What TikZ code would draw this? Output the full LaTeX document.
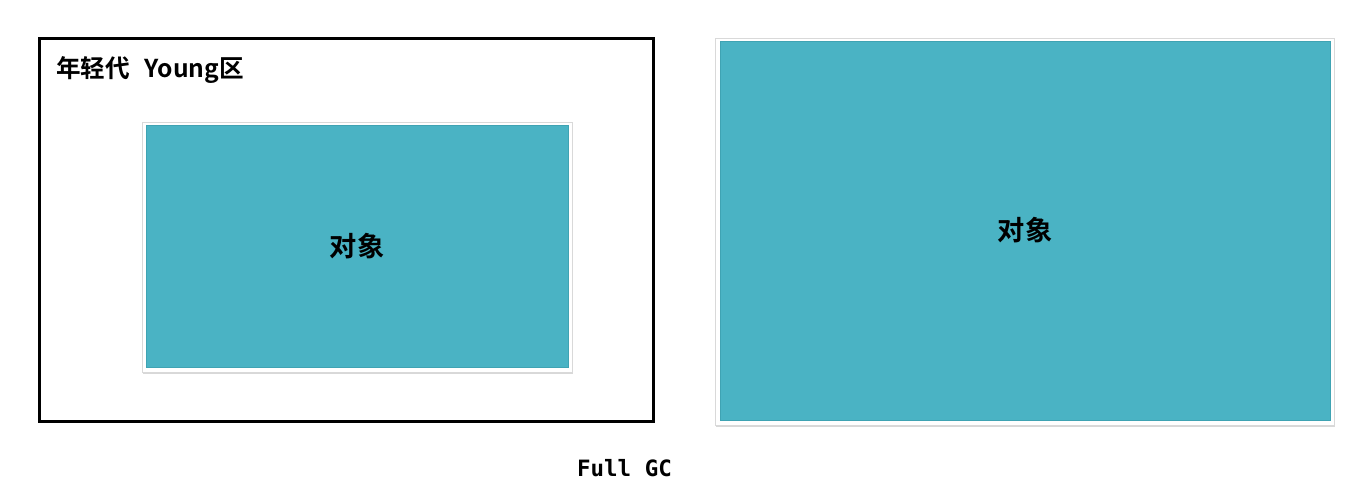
\documentclass[tikz,border=0pt]{standalone}
\usepackage{fontspec}
\usepackage{xcolor}
\usepackage{tikz}
\usetikzlibrary{positioning, shadows}
\newfontfamily\cjk{Noto Sans CJK SC}[BoldFont={Noto Sans CJK SC Bold}]
\newfontfamily\gcmono{DejaVu Sans Mono}
\definecolor{objteal}{HTML}{4AB3C4}
\definecolor{objborder}{HTML}{3FA3B3}
\definecolor{framegray}{HTML}{D9D9D9}

\tikzset{
  objframe/.style={fill=white, draw=framegray, line width=0.3pt, inner sep=0pt,
                   drop shadow={shadow xshift=0.6pt, shadow yshift=-1.2pt, fill=black!30}},
  objfill/.style={fill=objteal, draw=objborder, line width=0.4pt, inner sep=0pt,
                  font=\cjk\bfseries\fontsize{15.5}{18}\selectfont}
}

\begin{document}
\begin{tikzpicture}[x=0.02cm, y=-0.02cm]
    \useasboundingbox[fill=white] (0,0) rectangle (1366,483);
    % young generation
    \node[draw=black, line width=1.7pt, inner sep=0pt,
          minimum width=12.3cm, minimum height=7.68cm] (young) at (346.5,230) {};
    \node[anchor=west, inner sep=0pt, font=\cjk\bfseries\fontsize{14}{16}\selectfont]
          (youngtitle) at (56,70) {年轻代\hspace{0.6em}Young区};
    \node[objframe, minimum width=8.6cm, minimum height=5.0cm] (youngframe) at (357,247) {};
    \node[objfill, minimum width=8.44cm, minimum height=4.84cm] (youngobj) at (357,246) {对象};
    % after promotion
    \node[objframe, minimum width=12.38cm, minimum height=7.74cm] (oldframe) at (1024.5,231.5) {};
    \node[objfill, minimum width=12.2cm, minimum height=7.58cm] (oldobj) at (1025,230.5) {对象};
    \node[inner sep=0pt, font=\gcmono\bfseries\fontsize{12.8}{15}\selectfont]
          (fullgc) at (624.5,468) {Full GC};
  \end{tikzpicture}
\end{document}
